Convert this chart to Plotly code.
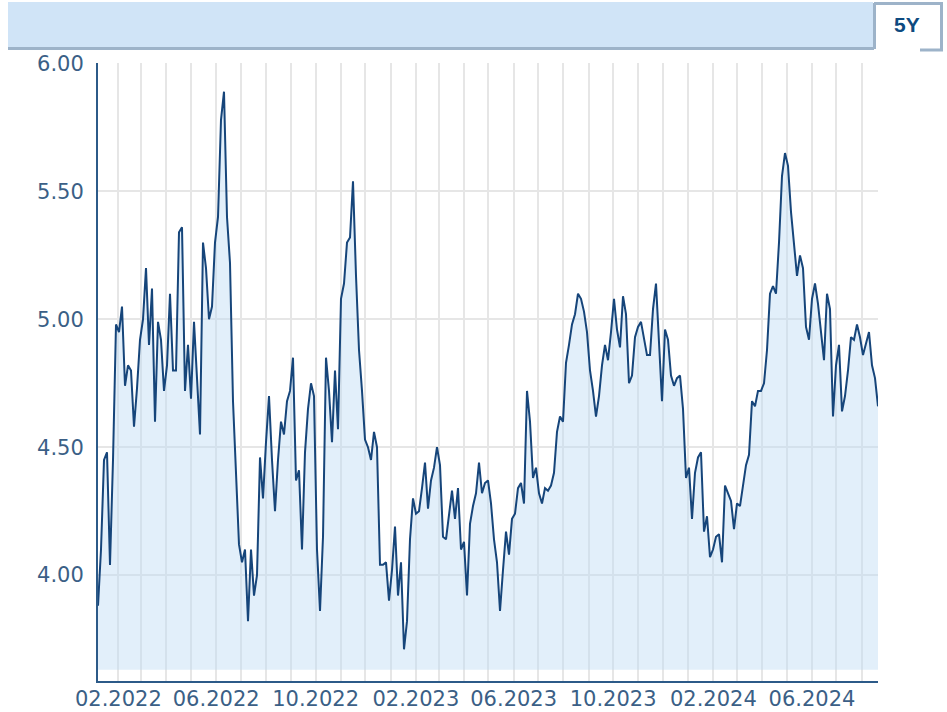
import pandas as pd
import plotly.graph_objects as go

# ---------------- data ----------------
start_date = "2022-01-07"
end_date = "2024-08-21"

values_2022a = [
    3.88, 4.10, 4.45, 4.48, 4.04, 4.45, 4.98, 4.95, 5.05, 4.74,
    4.82, 4.80, 4.58, 4.73, 4.92, 5.00, 5.20, 4.90, 5.12, 4.60,
    4.99, 4.92, 4.72, 4.82, 5.10, 4.80, 4.80, 5.34, 5.36, 4.72,
    4.90, 4.69, 4.99, 4.78, 4.55, 5.30, 5.20, 5.00, 5.05, 5.30,
    5.40, 5.78, 5.89, 5.40, 5.22, 4.68, 4.39, 4.12, 4.05, 4.10,
    3.82, 4.10, 3.92, 4.00, 4.46, 4.30, 4.52, 4.70, 4.45, 4.25,
    4.45, 4.60, 4.55, 4.68, 4.72, 4.85,
]
values_2022b = [
    4.37, 4.41, 4.10, 4.48, 4.65, 4.75, 4.70, 4.10, 3.86, 4.15,
    4.85, 4.72, 4.52, 4.80, 4.57, 5.08, 5.14, 5.30, 5.32, 5.54,
    5.17, 4.88, 4.72, 4.53, 4.50, 4.45, 4.56, 4.50, 4.04, 4.04,
    4.05, 3.90, 4.02, 4.19, 3.92, 4.05, 3.71, 3.82, 4.14, 4.30,
    4.24, 4.25, 4.34, 4.44, 4.26, 4.37, 4.42, 4.50, 4.43, 4.15,
    4.14, 4.24, 4.33, 4.22, 4.34, 4.10, 4.13, 3.92, 4.20, 4.27,
    4.32, 4.44, 4.32, 4.36, 4.37,
]
values_2023 = [
    4.28, 4.14, 4.05, 3.86, 4.02, 4.17, 4.08, 4.22, 4.24, 4.34,
    4.36, 4.28, 4.72, 4.60, 4.38, 4.42, 4.32, 4.28, 4.34, 4.33,
    4.35, 4.40, 4.56, 4.62, 4.60, 4.83, 4.90, 4.98, 5.02, 5.10,
    5.08, 5.03, 4.95, 4.80, 4.72, 4.62, 4.70, 4.82, 4.90, 4.84,
    4.95, 5.08, 4.96, 4.89, 5.09, 5.02, 4.75, 4.78, 4.93, 4.97,
    4.99, 4.92, 4.86, 4.86, 5.04, 5.14, 4.90, 4.68, 4.96, 4.92,
    4.78, 4.74, 4.77, 4.78, 4.65,
]
values_2024 = [
    4.38, 4.42, 4.22, 4.40, 4.46, 4.48, 4.17, 4.23, 4.07, 4.10,
    4.15, 4.16, 4.05, 4.35, 4.32, 4.29, 4.18, 4.28, 4.27, 4.36,
    4.43, 4.47, 4.68, 4.66, 4.72, 4.72, 4.75, 4.88, 5.10, 5.13,
    5.10, 5.30, 5.56, 5.65, 5.60, 5.42, 5.28, 5.17, 5.25, 5.20,
    4.97, 4.92, 5.08, 5.14, 5.06, 4.95, 4.84, 5.10, 5.04, 4.62,
    4.82, 4.90, 4.64, 4.70, 4.80, 4.93, 4.92, 4.98, 4.93, 4.86,
    4.90, 4.95, 4.82, 4.77, 4.66,
]
values = values_2022a + values_2022b + values_2023 + values_2024
dates = pd.date_range(start_date, end_date, periods=len(values))

y_ticks = [4.0, 4.5, 5.0, 5.5, 6.0]
y_min, y_max = 3.586, 6.002
fill_base = 3.63
range_label = "5Y"

# ---------------- styling ----------------
W, H = 947, 712
PL, PR, PT, PB = 98, 878, 63, 681
AXIS_COLOR = "#2c5a88"
GRID_COLOR = "#e6e6e6"
TICK_COLOR = "#3b5f86"
LINE_COLOR = "#16457a"
FILL_COLOR = "rgba(190,220,245,0.45)"
BORDER = "#9db3c9"
tick_font = dict(family="DejaVu Sans", size=21, color=TICK_COLOR)


def px(x):
    return (x - PL) / (PR - PL)


def py(y):
    return (PB - y) / (PB - PT)


fig = go.Figure()
fig.add_trace(go.Scatter(
    x=dates, y=[fill_base] * len(values), mode="lines",
    line=dict(width=0), hoverinfo="skip", showlegend=False,
))
fig.add_trace(go.Scatter(
    x=dates, y=values, mode="lines", fill="tonexty",
    fillcolor=FILL_COLOR, line=dict(color=LINE_COLOR, width=2),
    showlegend=False,
))

shapes = [
    dict(type="rect", xref="paper", yref="paper", x0=px(8), x1=px(873),
         y0=py(48), y1=py(2), fillcolor="#d0e4f7", line=dict(width=0), layer="above"),
    dict(type="line", xref="paper", yref="paper", x0=px(8), x1=px(875),
         y0=py(48.5), y1=py(48.5), line=dict(color=BORDER, width=3)),
    dict(type="rect", xref="paper", yref="paper", x0=px(874), x1=px(942),
         y0=py(50), y1=py(3), fillcolor="white", line=dict(width=0)),
    dict(type="line", xref="paper", yref="paper", x0=px(874), x1=px(943),
         y0=py(3.5), y1=py(3.5), line=dict(color=BORDER, width=3)),
    dict(type="line", xref="paper", yref="paper", x0=px(874.5), x1=px(874.5),
         y0=py(3), y1=py(49), line=dict(color=BORDER, width=3)),
    dict(type="line", xref="paper", yref="paper", x0=px(941.5), x1=px(941.5),
         y0=py(3), y1=py(51), line=dict(color=BORDER, width=3)),
    dict(type="line", xref="paper", yref="paper", x0=px(920), x1=px(943),
         y0=py(50), y1=py(50), line=dict(color=BORDER, width=3)),
]

fig.update_layout(
    width=W, height=H,
    margin=dict(l=PL, r=W - PR, t=PT, b=H - PB, autoexpand=False),
    paper_bgcolor="white", plot_bgcolor="white",
    shapes=shapes,
    annotations=[dict(
        text="<b>" + range_label + "</b>", xref="paper", yref="paper",
        x=px(907), y=py(24), showarrow=False, xanchor="center", yanchor="middle",
        font=dict(family="Liberation Sans", size=21, color="#0e4a80"),
    )],
    xaxis=dict(
        type="date", range=[dates[0], dates[-1]], automargin=False,
        showline=True, linecolor=AXIS_COLOR, linewidth=2,
        showgrid=True, gridcolor=GRID_COLOR, gridwidth=2,
        tick0="2022-02-01", dtick="M4", tickformat="%m.%Y",
        ticks="", tickfont=tick_font, ticklabelstandoff=-2,
        minor=dict(dtick="M1", tick0="2022-02-01", showgrid=True,
                   gridcolor=GRID_COLOR, gridwidth=2),
        zeroline=False,
    ),
    yaxis=dict(
        range=[y_min, y_max], tickmode="array", tickvals=y_ticks,
        tickformat=".2f", automargin=False,
        showline=True, linecolor=AXIS_COLOR, linewidth=2,
        showgrid=True, gridcolor=GRID_COLOR, gridwidth=2,
        ticks="", tickfont=tick_font, ticklabelstandoff=8,
        zeroline=False,
    ),
)

fig.write_html("out.html", config={"displayModeBar": False},
               post_script="document.body.style.margin='0';")
